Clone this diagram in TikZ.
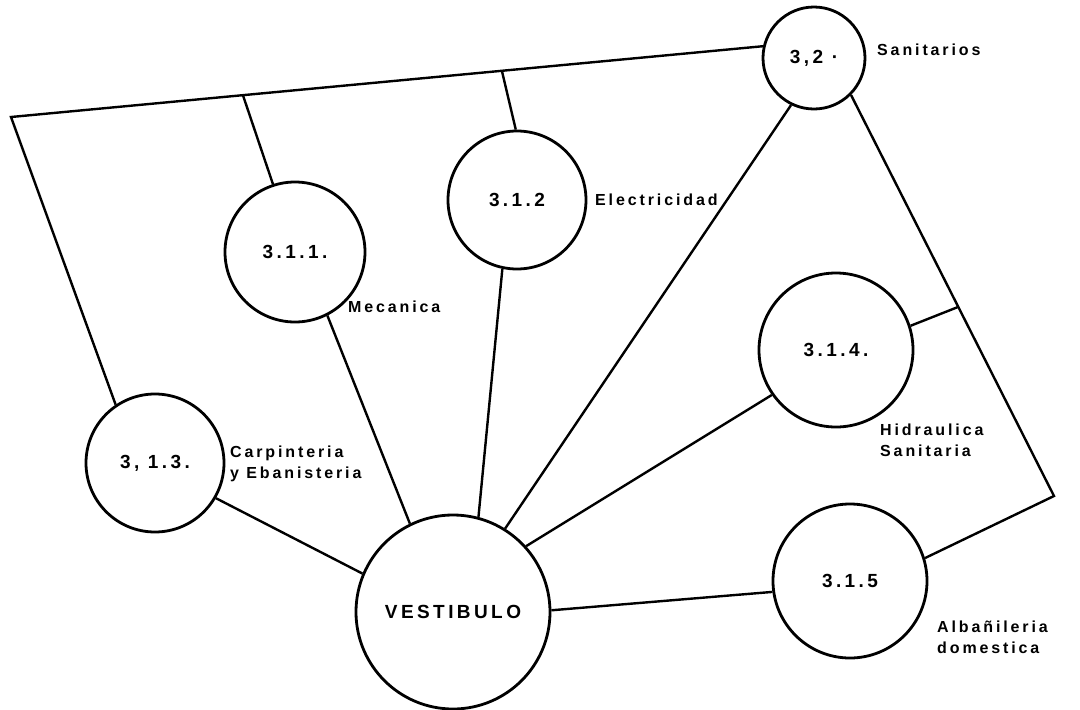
\documentclass[tikz,border=0pt]{standalone}
\usepackage{fontspec}
\setmainfont{Liberation Sans}
\newfontfamily\maquina[LetterSpace=18]{Liberation Sans}
\usepackage{tikz}

\begin{document}
\begin{tikzpicture}[x=1pt,y=-1pt,line width=2.4pt,
  sala/.style={draw,circle,line width=2.8pt,inner sep=0pt,
    font=\maquina\bfseries\fontsize{19}{19}\selectfont},
  nota/.style={anchor=west,align=left,inner sep=0pt,
    font=\maquina\bfseries\fontsize{16}{21}\selectfont}]
\useasboundingbox (0,0) rectangle (1080,710);
\fill[white] (0,0) rectangle (1080,710);

\node[sala,minimum size=194pt] (vest) at (453,612) {VESTIBULO};
\node[sala,minimum size=138pt] (s113) at (155,463) {3, 1.3.};
\node[sala,minimum size=140pt] (s111) at (295,252) {3.1.1.};
\node[sala,minimum size=138pt] (s112) at (517,200) {3.1.2};
\node[sala,minimum size=102pt] (s32)  at (814,58)  {3,2 ·};
\node[sala,minimum size=154pt] (s114) at (836,350) {3.1.4.};
\node[sala,minimum size=154pt] (s115) at (850,581) {3.1.5};

\node[nota] (lsan) at (876,50)  {Sanitarios};
\node[nota] (lele) at (594,200) {Electricidad};
\node[nota] (lmec) at (347,307) {Mecanica};
\node[nota] (lcar) at (229,464) {Carpinteria\\ y Ebanisteria};
\node[nota] (lhid) at (879,440) {Hidraulica\\Sanitaria};
\node[nota] (lalb) at (936,637) {Albañileria\\domestica};

\coordinate (c1) at (11,117);
\coordinate (c2) at (1054,496);
\coordinate (t1) at (243,95.4);
\coordinate (t2) at (502,71.3);
\coordinate (j)  at (958,307);

\draw (s32.167.8) -- (c1) -- (s113.124.2);
\draw (t1) -- (s111.108.9);
\draw (t2) -- (s112.91.7);
\draw (s32.-45) -- (c2) -- (s115.17);
\draw (s114.18.7) -- (j);

\draw (vest.157.7) -- (s113.-30.4);
\draw (vest.116.3) -- (s111.-63.8);
\draw (vest.75.7)  -- (s112.-102.4);
\draw (vest.58.6)  -- (s32.-116.6);
\draw (vest.42.2)  -- (s114.-145.7);
\draw (vest.1.8)   -- (s115.188.1);
\end{tikzpicture}
\end{document}
